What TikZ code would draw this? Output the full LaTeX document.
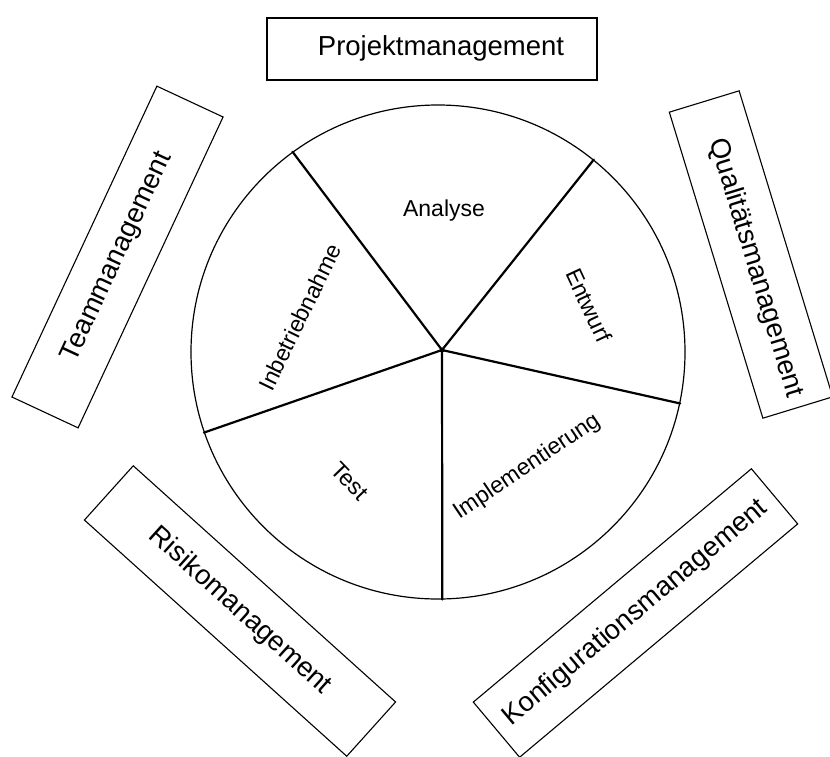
\documentclass[tikz,border=0pt]{standalone}
\usepackage{fontspec}
\setmainfont{Liberation Sans}
\begin{document}
\begin{tikzpicture}[x=1pt,y=-1pt,
  areabox/.style={draw, line width=1.1pt, inner sep=0pt, minimum width=#1, minimum height=73pt},
  outertext/.style={inner sep=0pt, font=\fontsize{27.5}{33}\selectfont},
  phasetext/.style={inner sep=0pt, font=\fontsize{23}{28}\selectfont},
  spoke/.style={line width=2.2pt, line cap=round}
]
\useasboundingbox (0,0) rectangle (830,756);

% Management areas around the wheel
\node[areabox=330pt, minimum height=62pt] (projbox) at (432,49) {};
\node[outertext] (projtext) at (441,48) {Projektmanagement};

\node[areabox=343pt, rotate=65, outertext] (team) at (117.5,257) {Teammanagement};

\node[areabox=320pt, rotate=-73] (qualbox) at (751,254.5) {};
\node[outertext, rotate=-73] (qualtext) at (755.5,268) {Qualitätsmanagement};

\node[areabox=353pt, rotate=-42, outertext] (risk) at (240,611) {Risikomanagement};

\node[areabox=363pt, minimum height=72pt, rotate=40, outertext] (konf) at (635.5,613) {Konfigurationsmanagement};

% Phase wheel
\node[circle, draw, line width=1.2pt, inner sep=0pt, minimum size=494pt] (wheel) at (438,352) {};
\node[circle, fill, inner sep=0pt, minimum size=5pt] (hub) at (442,350) {};

\draw[spoke] (hub.center) -- (wheel.126.5);
\draw[spoke] (hub.center) -- (wheel.51.5);
\draw[spoke] (hub.center) -- (wheel.-12.2);
\draw[spoke] (hub.center) -- (wheel.-89.3);
\draw[spoke] (hub.center) -- (wheel.199.7);

% Phase labels
\node[phasetext] (analyse) at (444,211) {Analyse};
\node[phasetext, rotate=-65] (entwurf) at (589,305) {Entwurf};
\node[phasetext, rotate=34] (impl) at (527,467) {Implementierung};
\node[phasetext, rotate=-46] (test) at (350,481) {Test};
\node[phasetext, rotate=64] (inbetrieb) at (300,317) {Inbetriebnahme};
\end{tikzpicture}
\end{document}
